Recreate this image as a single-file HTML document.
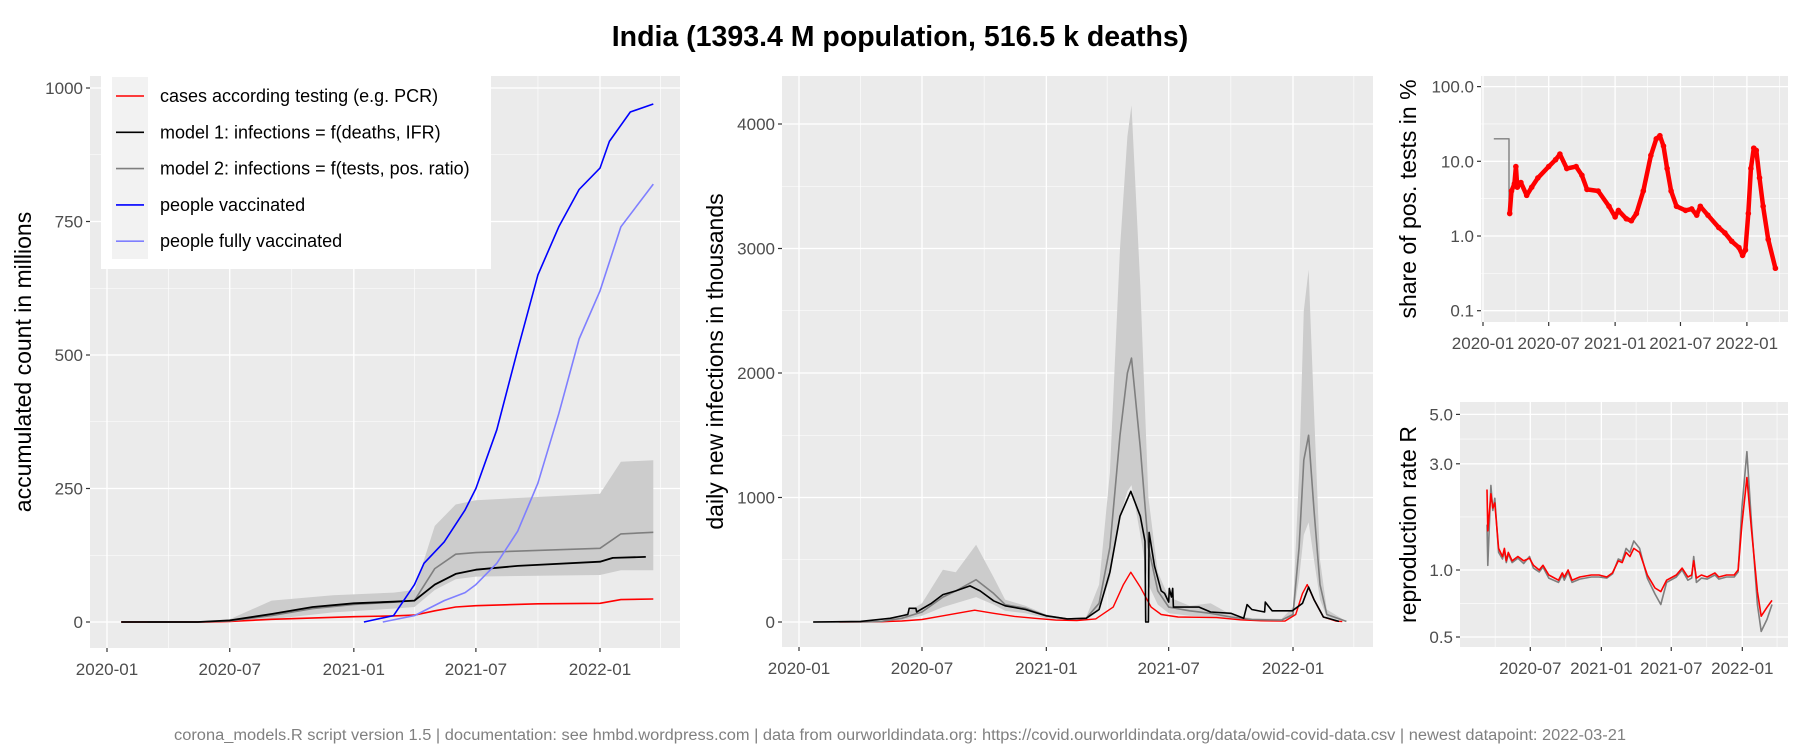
<!DOCTYPE html>
<html><head><meta charset="utf-8">
<style>
html,body{margin:0;padding:0;background:#fff;}
svg{display:block;font-family:"Liberation Sans",Arial,sans-serif;}
</style></head>
<body>
<svg id="chart" width="1800" height="750" viewBox="0 0 1800 750" xmlns="http://www.w3.org/2000/svg">
<text x="900" y="46" text-anchor="middle" font-size="28.5" font-weight="bold" fill="#000">India (1393.4 M population, 516.5 k deaths)</text>
<text x="900" y="740" text-anchor="middle" font-size="15.5" fill="#808080" textLength="1452" lengthAdjust="spacingAndGlyphs">corona_models.R script version 1.5 | documentation: see hmbd.wordpress.com | data from ourworldindata.org: https://covid.ourworldindata.org/data/owid-covid-data.csv | newest datapoint: 2022-03-21</text>
</svg>
<script>
// ---------- Panel 1: accumulated (millions) ----------
const p1CasesDates = ['2020-01-22','2020-06-01','2020-07-01','2020-09-01','2021-01-01','2021-03-01','2021-04-01','2021-05-01','2021-06-01','2021-07-01','2021-10-01','2022-01-01','2022-02-01','2022-03-21'];
const p1CasesVals = [0,0.2,1,5,10,11.5,13,21,28,30.5,34,35,42,43];
const p1M1Dates = ['2020-01-22','2020-05-15','2020-07-01','2020-09-01','2020-11-01','2021-01-01','2021-03-01','2021-04-01','2021-05-01','2021-06-01','2021-07-01','2021-09-01','2022-01-01','2022-01-20','2022-03-10'];
const p1M1Vals = [0,0,3,15,28,35,38,40,70,90,98,105,113,120,122];
const p1M2Dates = ['2020-03-01','2020-05-15','2020-07-01','2020-09-01','2020-11-01','2021-01-01','2021-03-01','2021-04-01','2021-05-01','2021-06-01','2021-07-01','2022-01-01','2022-02-01','2022-03-21'];
const p1M2Vals = [0,0,2,12,25,33,37,40,100,127,130,138,165,168];
const p1BandDates = ['2020-03-01','2020-05-15','2020-07-01','2020-09-01','2020-12-01','2021-03-01','2021-04-01','2021-05-01','2021-06-01','2021-07-01','2022-01-01','2022-02-01','2022-03-21'];
const p1BandLow = [0,0,1,5,18,25,28,60,80,85,88,97,97];
const p1BandHigh = [0,0,5,40,50,55,60,180,220,228,240,300,303];
const p1VaxDates = ['2021-01-16','2021-03-01','2021-04-01','2021-04-15','2021-05-15','2021-06-15','2021-07-01','2021-08-01','2021-09-01','2021-10-01','2021-11-01','2021-12-01','2022-01-01','2022-01-15','2022-02-15','2022-03-21'];
const p1VaxVals = [0,12,70,110,150,210,250,360,510,650,740,810,850,900,955,970];
const p1FullDates = ['2021-02-13','2021-04-01','2021-05-15','2021-06-15','2021-07-01','2021-08-01','2021-09-01','2021-10-01','2021-11-01','2021-12-01','2022-01-01','2022-02-01','2022-03-21'];
const p1FullVals = [0,12,40,55,70,110,170,260,390,530,620,740,820];
const p1YTicks = [0,250,500,750,1000];
const xTickLabels = ['2020-01','2020-07','2021-01','2021-07','2022-01'];

// ---------- Panel 2: daily (thousands) ----------
const p2BlackDates = ['2020-01-22','2020-04-01','2020-05-15','2020-06-10','2020-06-12','2020-06-22','2020-06-23','2020-07-15','2020-08-01','2020-08-20','2020-09-10','2020-09-25','2020-10-15','2020-11-01','2020-12-01','2021-01-01','2021-02-01','2021-03-01','2021-03-20','2021-04-05','2021-04-20','2021-05-06','2021-05-20','2021-05-27','2021-05-28','2021-06-01','2021-06-02','2021-06-10','2021-06-20','2021-06-25','2021-07-01','2021-07-02','2021-07-05','2021-07-07','2021-07-08','2021-08-15','2021-09-01','2021-10-01','2021-10-20','2021-10-25','2021-11-01','2021-11-20','2021-11-21','2021-12-01','2021-12-02','2021-12-31','2022-01-15','2022-01-24','2022-02-01','2022-02-15','2022-03-10'];
const p2BlackVals = [0,5,30,60,110,110,80,150,220,250,290,250,170,130,100,50,25,30,100,400,850,1050,850,650,0,0,720,450,250,230,160,270,200,270,120,120,80,70,30,140,100,80,160,90,90,90,150,280,180,40,5];
const p2GrayDates = ['2020-01-22','2020-04-01','2020-05-01','2020-06-01','2020-07-01','2020-08-01','2020-08-20','2020-09-19','2020-10-15','2020-11-01','2020-12-01','2021-01-01','2021-02-01','2021-03-01','2021-03-20','2021-04-05','2021-04-20','2021-05-01','2021-05-07','2021-05-20','2021-06-01','2021-06-15','2021-07-01','2021-08-01','2021-09-01','2021-10-01','2021-11-01','2021-12-15','2022-01-01','2022-01-10','2022-01-17','2022-01-24','2022-02-01','2022-02-10','2022-02-20','2022-03-21'];
const p2GrayVals = [0,0,5,30,80,200,250,340,230,140,110,50,25,30,150,600,1500,2000,2120,1400,600,250,120,90,70,40,20,15,60,600,1300,1500,900,300,60,5];
const p2BandLow = [0,0,2,15,50,120,150,200,140,90,70,30,15,20,90,350,850,1050,1100,700,300,140,70,50,40,25,12,10,40,350,700,800,500,180,40,3];
const p2BandHigh = [0,0,10,50,150,420,400,620,360,180,130,60,30,40,300,1200,3000,3900,4150,2700,1000,400,200,130,150,60,30,25,120,1200,2500,2830,1700,500,100,5];
const p2RedDates = ['2020-03-01','2020-05-01','2020-06-01','2020-07-01','2020-08-01','2020-09-17','2020-10-15','2020-11-15','2020-12-15','2021-01-15','2021-02-15','2021-03-15','2021-04-10','2021-04-25','2021-05-06','2021-05-20','2021-06-05','2021-06-20','2021-07-15','2021-08-15','2021-09-10','2021-10-15','2021-11-15','2021-12-20','2022-01-05','2022-01-15','2022-01-22','2022-02-01','2022-02-15','2022-03-05','2022-03-15'];
const p2RedVals = [0,2,8,20,50,95,70,45,30,15,11,25,120,300,400,280,120,60,40,38,35,18,10,7,60,230,300,180,40,8,3];
const p2YTicks = [0,1000,2000,3000,4000];

// ---------- Panel 3: share of positive tests (%) ----------
const p3GrayDates = ['2020-01-31','2020-03-13','2020-03-13','2020-03-15'];
const p3GrayVals = [20,20,2.0,2.0];
const p3RedDates = ['2020-03-15','2020-03-20','2020-03-28','2020-04-01','2020-04-05','2020-04-15','2020-05-01','2020-05-15','2020-06-01','2020-07-01','2020-07-20','2020-08-01','2020-08-20','2020-09-15','2020-10-01','2020-10-15','2020-11-15','2020-12-15','2021-01-01','2021-01-10','2021-02-01','2021-02-15','2021-03-01','2021-03-20','2021-04-10','2021-04-25','2021-05-05','2021-05-15','2021-05-25','2021-06-05','2021-06-20','2021-07-15','2021-08-01','2021-08-15','2021-08-25','2021-09-15','2021-10-15','2021-11-01','2021-11-20','2021-12-10','2021-12-20','2021-12-28','2022-01-05','2022-01-12','2022-01-20','2022-01-27','2022-02-05','2022-02-15','2022-03-01','2022-03-21'];
const p3RedVals = [2.0,4,5,8.5,4.5,5.2,3.5,4.5,6,8.5,10.5,12.5,8,8.5,6.5,4.2,4.0,2.5,1.8,2.2,1.7,1.6,2,4,12,20,22,16,8,4,2.5,2.2,2.3,1.9,2.5,1.9,1.3,1.1,0.85,0.7,0.55,0.65,2,8,15,14,6,2.5,0.9,0.37];
const p3YTicks = [0.1,1,10,100];
const p3YLabels = ['0.1','1.0','10.0','100.0'];

// ---------- Panel 4: reproduction rate R (day offsets since 2020-01-01) ----------
const p4Days = [70,72,80,85,90,100,110,115,120,125,135,150,165,180,190,205,215,230,255,265,270,280,290,310,340,360,380,395,410,420,430,440,450,465,485,505,520,535,560,575,590,600,605,612,625,640,660,670,690,710,720,730,743,755,770,780,795,808];
const p4Red = [2.3,1.5,2.2,1.9,2.0,1.25,1.15,1.25,1.1,1.2,1.1,1.15,1.1,1.13,1.05,1.0,1.05,0.95,0.9,0.97,0.93,1.0,0.9,0.93,0.95,0.95,0.93,0.97,1.1,1.08,1.2,1.15,1.25,1.2,0.95,0.83,0.8,0.9,0.95,1.02,0.93,0.95,1.1,0.92,0.95,0.93,0.97,0.93,0.95,0.95,1.0,1.6,2.6,1.5,0.8,0.62,0.68,0.73];
const p4Gray = [1.6,1.05,2.4,1.85,2.1,1.2,1.12,1.22,1.08,1.18,1.08,1.13,1.07,1.15,1.02,0.98,1.03,0.92,0.88,0.95,0.9,0.98,0.88,0.91,0.93,0.93,0.92,0.96,1.12,1.1,1.25,1.2,1.35,1.25,0.92,0.78,0.7,0.88,0.93,1.0,0.9,0.92,1.15,0.88,0.92,0.91,0.95,0.91,0.93,0.93,0.98,1.9,3.4,1.6,0.7,0.53,0.6,0.7];
const p4YTicks = [0.5,1,3,5];
const p4YLabels = ['0.5','1.0','3.0','5.0'];
const p4XTickLabels = ['2020-07','2021-01','2021-07','2022-01'];

const NS = 'http://www.w3.org/2000/svg';
const svg = document.getElementById('chart');
const day = s => (Date.parse(s) - Date.parse('2020-01-01')) / 86400000;
function mk(tag, attrs, parent) {
  const el = document.createElementNS(NS, tag);
  for (const k in attrs) el.setAttribute(k, attrs[k]);
  (parent || svg).appendChild(el);
  return el;
}

function panel(cfg) {
  const g = mk('g', {});
  
  
  const bg = mk('rect', {x: cfg.l, y: cfg.t, width: cfg.r - cfg.l, height: cfg.b - cfg.t, fill: '#ebebeb'}, g);
  
  
  cfg.yMinor.forEach(v => {
    const y = cfg.ys(v);
    mk('line', {x1: cfg.l, x2: cfg.r, y1: y, y2: y, stroke: '#fff', 'stroke-width': 0.6}, g);
  });
  cfg.xMinor.forEach(d => {
    const x = cfg.xs(day(d));
    if (x > cfg.l && x < cfg.r) mk('line', {x1: x, x2: x, y1: cfg.t, y2: cfg.b, stroke: '#fff', 'stroke-width': 0.6}, g);
  });
  cfg.yTicks.forEach((v, i) => {
    const y = cfg.ys(v);
    mk('line', {x1: cfg.l, x2: cfg.r, y1: y, y2: y, stroke: '#fff', 'stroke-width': 1.3}, g);
    mk('line', {x1: cfg.l - 4, x2: cfg.l, y1: y, y2: y, stroke: '#333', 'stroke-width': 1.2}, g);
    const t = mk('text', {x: cfg.l - 7, y: y + 6, 'text-anchor': 'end', 'font-size': 17, fill: '#4d4d4d'}, g);
    t.textContent = cfg.yLabels[i];
    
    
  });
  cfg.xTicks.forEach((lab) => {
    const x = cfg.xs(day(lab + '-01'));
    mk('line', {x1: x, x2: x, y1: cfg.t, y2: cfg.b, stroke: '#fff', 'stroke-width': 1.3}, g);
    mk('line', {x1: x, x2: x, y1: cfg.b, y2: cfg.b + 4, stroke: '#333', 'stroke-width': 1.2}, g);
    const t = mk('text', {x: x, y: cfg.b + 27, 'text-anchor': 'middle', 'font-size': 17, fill: '#4d4d4d'}, g);
    t.textContent = lab;
    
    
  });
  const yt = mk('text', {x: 0, y: 0, transform: `translate(${cfg.titleX},${(cfg.t + cfg.b) / 2}) rotate(-90)`, 'text-anchor': 'middle', 'font-size': 23, fill: '#000'}, g);
  yt.textContent = cfg.title;
  
  
  return g;
}
function pathFrom(xs, ys, dates, vals, isDay) {
  return dates.map((d, i) => (i ? 'L' : 'M') + xs(isDay ? d : day(d)).toFixed(1) + ',' + ys(vals[i]).toFixed(1)).join('');
}
function line(g, name, xs, ys, dates, vals, color, w, isDay) {
  const p = mk('path', {d: pathFrom(xs, ys, dates, vals, isDay), fill: 'none', stroke: color, 'stroke-width': w, 'stroke-linejoin': 'round'}, g);
  
  
  return p;
}
function band(g, name, xs, ys, dates, lo, hi) {
  let d = dates.map((s, i) => (i ? 'L' : 'M') + xs(day(s)).toFixed(1) + ',' + ys(hi[i]).toFixed(1)).join('');
  for (let i = dates.length - 1; i >= 0; i--) d += 'L' + xs(day(dates[i])).toFixed(1) + ',' + ys(lo[i]).toFixed(1);
  const p = mk('path', {d: d + 'Z', fill: '#cccccc', stroke: 'none'}, g);
  
  
}
const minorMonths = ['2020-04-01','2020-10-01','2021-04-01','2021-10-01','2022-04-01'];

// Panel 1
const xs1 = d => 107 + d * 0.6744, ys1 = v => 622 - v * 0.534;
const g1 = panel({name: 'accumulated-panel', l: 90, r: 680, t: 76, b: 648, xs: xs1, ys: ys1, yTicks: p1YTicks, yLabels: p1YTicks.map(String), yMinor: [125, 375, 625, 875], xMinor: minorMonths, xTicks: xTickLabels, title: 'accumulated count in millions', titleX: 31});
band(g1, 'model-uncertainty-band', xs1, ys1, p1BandDates, p1BandLow, p1BandHigh);
line(g1, 'cases-line', xs1, ys1, p1CasesDates, p1CasesVals, '#ff0000', 1.6);
line(g1, 'model2-line', xs1, ys1, p1M2Dates, p1M2Vals, '#7f7f7f', 1.6);
line(g1, 'model1-line', xs1, ys1, p1M1Dates, p1M1Vals, '#000', 1.8);
line(g1, 'people-vaccinated-line', xs1, ys1, p1VaxDates, p1VaxVals, '#0000ff', 1.6);
line(g1, 'people-fully-vaccinated-line', xs1, ys1, p1FullDates, p1FullVals, '#7f7fff', 1.6);
// legend
const lg = mk('g', {});


mk('rect', {x: 101, y: 76, width: 390, height: 193, fill: '#fff'}, lg);
mk('rect', {x: 112, y: 77, width: 36, height: 182, fill: '#f2f2f2'}, lg);
const legLabels = ['cases according testing (e.g. PCR)','model 1: infections = f(deaths, IFR)','model 2: infections = f(tests, pos. ratio)','people vaccinated','people fully vaccinated'];
const legColors = ['#ff0000','#000000','#7f7f7f','#0000ff','#7f7fff'];
legLabels.forEach((lab, i) => {
  const y = 96 + i * 36.3;
  const e = mk('g', {}, lg);
  
  
  mk('line', {x1: 116, x2: 144, y1: y, y2: y, stroke: legColors[i], 'stroke-width': 1.6}, e);
  const t = mk('text', {x: 160, y: y + 6, 'font-size': 18, fill: '#000'}, e);
  t.textContent = lab;
});

// Panel 2
const xs2 = d => 799 + d * 0.6758, ys2 = v => 622 - v * 0.1245;
const g2 = panel({name: 'daily-infections-panel', l: 782, r: 1373, t: 76, b: 647, xs: xs2, ys: ys2, yTicks: p2YTicks, yLabels: p2YTicks.map(String), yMinor: [500, 1500, 2500, 3500], xMinor: minorMonths, xTicks: xTickLabels, title: 'daily new infections in thousands', titleX: 723});
band(g2, 'model2-uncertainty-band', xs2, ys2, p2GrayDates, p2BandLow, p2BandHigh);
line(g2, 'daily-cases-line', xs2, ys2, p2RedDates, p2RedVals, '#ff0000', 1.4);
line(g2, 'daily-model2-line', xs2, ys2, p2GrayDates, p2GrayVals, '#7f7f7f', 1.6);
line(g2, 'daily-model1-line', xs2, ys2, p2BlackDates, p2BlackVals, '#000', 1.6);

// Panel 3
const xs3 = d => 1483 + d * 0.361, ys3 = v => 236 - 74.7 * Math.log10(v);
const g3 = panel({name: 'positive-share-panel', l: 1481, r: 1788, t: 76, b: 322, xs: xs3, ys: ys3, yTicks: p3YTicks, yLabels: p3YLabels, yMinor: [0.316, 3.16, 31.6], xMinor: minorMonths, xTicks: xTickLabels, title: 'share of pos. tests in %', titleX: 1416});
line(g3, 'positive-share-model-line', xs3, ys3, p3GrayDates, p3GrayVals, '#7f7f7f', 1.4);
line(g3, 'positive-share-line', xs3, ys3, p3RedDates, p3RedVals, '#ff0000', 4.5);
p3RedDates.forEach((d, i) => {
  const c = mk('circle', {cx: xs3(day(d)), cy: ys3(p3RedVals[i]), r: 2.8, fill: '#ff0000'}, g3);
  
  
});

// Panel 4
const xs4 = d => 1460 + d * 0.3862, ys4 = v => 570 - 222.6 * Math.log10(v);
const g4 = panel({name: 'reproduction-rate-panel', l: 1460, r: 1788, t: 402, b: 647, xs: xs4, ys: ys4, yTicks: p4YTicks, yLabels: p4YLabels, yMinor: [0.707, 1.732, 3.873], xMinor: minorMonths, xTicks: p4XTickLabels, title: 'reproduction rate R', titleX: 1416});
line(g4, 'r-model-line', xs4, ys4, p4Days, p4Gray, '#7f7f7f', 1.6, true);
line(g4, 'r-cases-line', xs4, ys4, p4Days, p4Red, '#ff0000', 1.6, true);
</script>
</body></html>
